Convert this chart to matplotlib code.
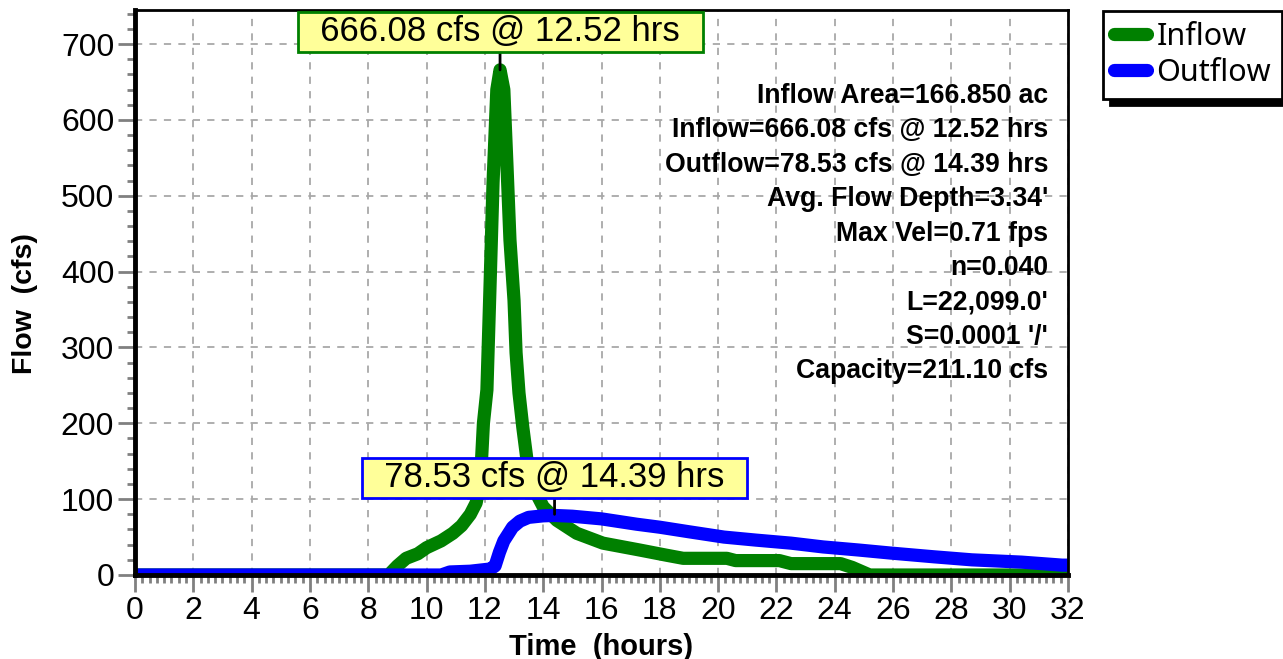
import numpy as np
import matplotlib.pyplot as plt
from matplotlib.ticker import MultipleLocator

# hydrograph (hours, cfs)
inflow_t = [0, 8.7, 9.0, 9.3, 9.7, 10.0, 10.5, 10.9, 11.2, 11.5, 11.7, 11.85, 11.95,
            12.07, 12.17, 12.28, 12.41, 12.52, 12.65, 12.76, 12.86, 13.0, 13.07, 13.17,
            13.3, 13.45, 13.65, 14.0, 14.47, 15.15, 16.05, 17.3, 18.24, 18.8, 20.3, 20.6,
            22.1, 22.5, 24.2, 24.6, 25.2, 32]
inflow_q = [0, 0, 12, 22, 28, 36, 45, 55, 65, 80, 95, 125, 200,
            244, 372, 517, 640, 666.08, 640, 538, 442, 362, 293, 240,
            195, 150, 116, 90, 72, 55, 42, 33, 26, 22, 22, 19,
            19, 15, 15, 10, 0, 0]

outflow_t = [0, 10.5, 10.8, 11.5, 12.2, 12.35, 12.5, 12.65, 12.95, 13.2, 13.5, 14.0,
             14.39, 15.0, 16.0, 17.2, 18.0, 19.0, 20.2, 21.3, 22.5, 23.6, 24.8, 25.9,
             27.4, 28.7, 30.4, 31.8, 32]
outflow_q = [0, 0, 4, 5, 8, 12, 30, 45, 63, 71, 76, 78, 78.53, 77.5, 74, 67, 63, 57,
             50, 46, 42, 37, 33, 29, 24, 20, 17, 13, 13]

info_lines = ["Inflow Area=166.850 ac", "Inflow=666.08 cfs @ 12.52 hrs",
              "Outflow=78.53 cfs @ 14.39 hrs", "Avg. Flow Depth=3.34'",
              "Max Vel=0.71 fps", "n=0.040", "L=22,099.0'", "S=0.0001 '/'",
              "Capacity=211.10 cfs"]

plt.rcParams['font.family'] = ['Liberation Sans', 'DejaVu Sans']

fig = plt.figure(figsize=(12.83, 6.59), dpi=100)
ax = fig.add_axes([135/1283, 1-575/659, (1068-135)/1283, (575-10)/659])

ax.plot(inflow_t, inflow_q, color='#008000', lw=9.5, solid_joinstyle='round',
        solid_capstyle='round', label='Inflow', zorder=3)
ax.plot(outflow_t, outflow_q, color='#0000ff', lw=9.5, solid_joinstyle='round',
        solid_capstyle='round', label='Outflow', zorder=3)

ax.set_xlim(0, 32)
ax.set_ylim(0, 745)
ax.xaxis.set_major_locator(MultipleLocator(2))
ax.xaxis.set_minor_locator(MultipleLocator(0.25))
ax.yaxis.set_major_locator(MultipleLocator(100))
ax.yaxis.set_minor_locator(MultipleLocator(20))
ax.tick_params(which='both', direction='out', color='#808080', width=2,
               labelsize=23, pad=3)
ax.tick_params(which='major', length=12)
ax.tick_params(which='minor', length=6)
ax.grid(True, which='major', color='#a8a8a8', ls=(0, (4, 4)), lw=1.3)

for side in ['left', 'bottom']:
    ax.spines[side].set_linewidth(3.5)
for side in ['top', 'right']:
    ax.spines[side].set_linewidth(2)
for s in ax.spines.values():
    s.set_zorder(5)

ax.set_xlabel("Time  (hours)", fontsize=21, fontweight='bold', labelpad=5)
ax.set_ylabel("Flow  (cfs)", fontsize=20.5, fontweight='bold')
ax.yaxis.set_label_coords(-0.104, 0.48)

# peak callouts
ax.annotate("  666.08 cfs @ 12.52 hrs  ", xy=(12.52, 666.08), xytext=(12.52, 716),
            ha='center', va='center', fontsize=25, zorder=6,
            bbox=dict(boxstyle='square,pad=0.1', fc='#ffff99', ec='#008000', lw=2),
            arrowprops=dict(arrowstyle='-', color='black', lw=2, shrinkA=0, shrinkB=0))
ax.annotate("  78.53 cfs @ 14.39 hrs  ", xy=(14.39, 80), xytext=(14.39, 128),
            ha='center', va='center', fontsize=25, zorder=6,
            bbox=dict(boxstyle='square,pad=0.1', fc='#ffff99', ec='#0000ff', lw=2),
            arrowprops=dict(arrowstyle='-', color='black', lw=2, shrinkA=0, shrinkB=0))

for i, line in enumerate(info_lines):
    ax.text(0.9786, 0.848 - i*0.0609, line, transform=ax.transAxes, ha='right',
            va='center', fontsize=19.2, fontweight='bold', zorder=6)

leg = fig.legend(loc='upper left', bbox_to_anchor=(1103/1283, 1-11/659),
                 borderaxespad=0, fancybox=False, edgecolor='black', framealpha=1,
                 shadow={'color': 'black', 'alpha': 1, 'ox': 5, 'oy': -5},
                 prop={'family': 'Noto Sans', 'size': 22}, handlelength=1.1,
                 handletextpad=0.3, borderpad=0.35, labelspacing=0.2)
leg.get_frame().set_linewidth(2)

fig.savefig("out.png", dpi=100)
